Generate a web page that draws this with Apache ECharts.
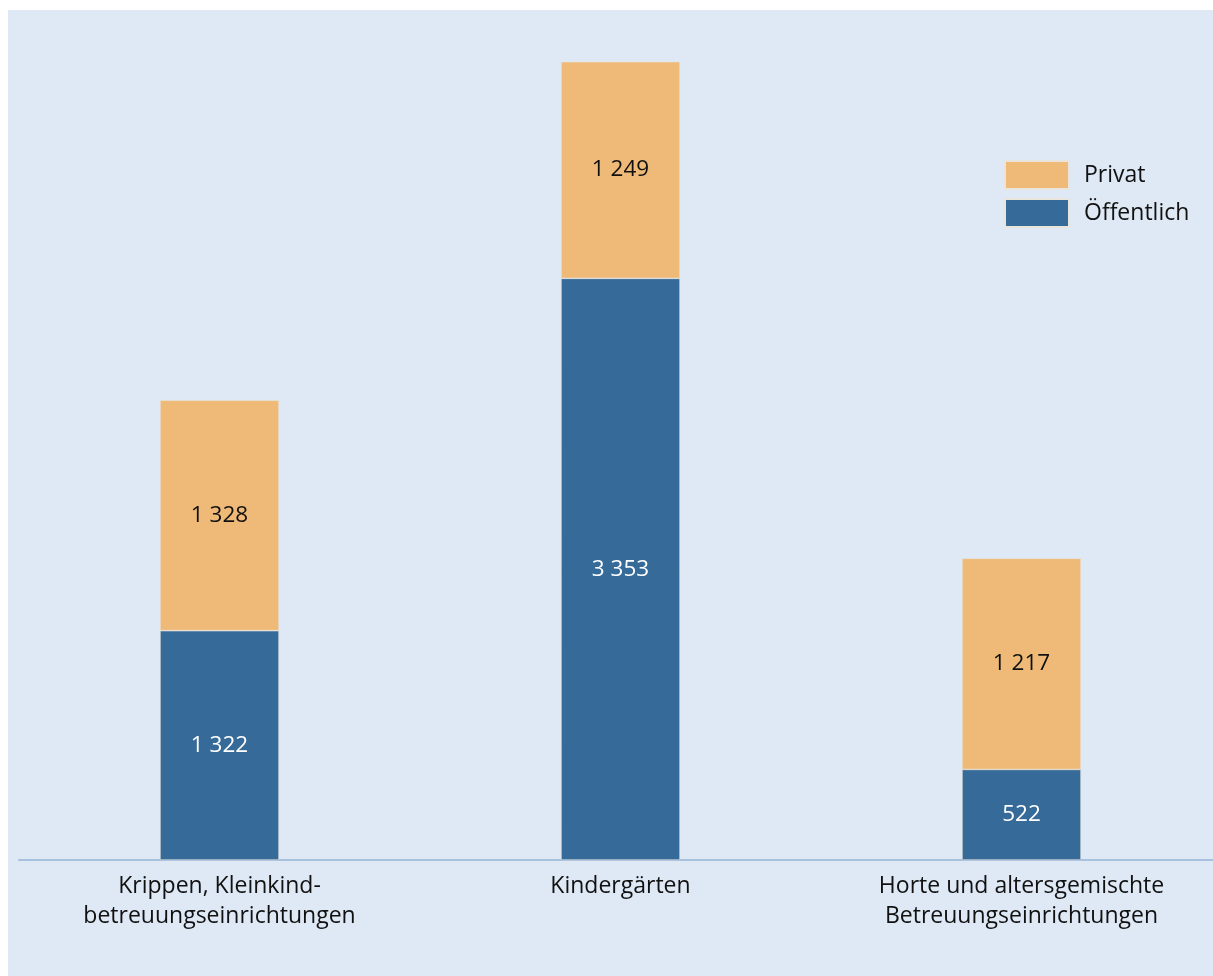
<!DOCTYPE html>
<html>
<head>
<meta charset="utf-8">
<script src="https://cdn.jsdelivr.net/npm/echarts@6/dist/echarts.min.js"></script>
<style>
html,body{margin:0;padding:0;background:#ffffff;width:1213px;height:976px;overflow:hidden;}
#chart{position:absolute;left:8px;top:10px;width:1260px;height:966px;}
</style>
</head>
<body>
<div id="chart"></div>
<script>
const categories = ["Krippen, Kleinkind-\nbetreuungseinrichtungen", "Kindergärten", "Horte und altersgemischte\nBetreuungseinrichtungen"];
const oeffentlich = [1322, 3353, 522];
const privat = [1328, 1249, 1217];
const seriesNames = ["Öffentlich", "Privat"];

const FONT = "Open Sans";
const fmt = v => String(v).replace(/\B(?=(\d{3})+(?!\d))/g, " ");

const chart = echarts.init(document.getElementById('chart'), null, {renderer: 'canvas'});
chart.setOption({
  backgroundColor: '#dee9f5',
  animation: false,
  textStyle: {fontFamily: FONT},
  grid: {left: 11, top: 0, width: 1203, height: 850, containLabel: false},
  legend: {
    data: [seriesNames[1], seriesNames[0]],
    orient: 'vertical',
    left: 996, top: 150,
    padding: 0,
    itemWidth: 64, itemHeight: 28, itemGap: 8,
    icon: 'rect',
    textStyle: {fontFamily: FONT, fontSize: 23, lineHeight: 28, color: '#111', padding: [0, 0, 0, 10]}
  },
  xAxis: {
    type: 'category',
    data: categories,
    axisLine: {lineStyle: {color: '#a7c1de', width: 2}},
    axisTick: {show: false},
    axisLabel: {fontFamily: FONT, fontSize: 23, color: '#111', lineHeight: 30, margin: 11, interval: 0}
  },
  yAxis: {
    type: 'value', min: 0, max: 4900,
    show: false,
    splitLine: {show: false}
  },
  series: [
    {
      name: seriesNames[0], type: 'bar', stack: 'total', data: oeffentlich,
      barWidth: 119,
      itemStyle: {color: '#366a98', borderColor: '#e9e4dc', borderWidth: 0.6},
      label: {show: true, position: 'inside', color: '#ffffff', fontFamily: FONT, fontSize: 22.5, formatter: p => fmt(p.value)}
    },
    {
      name: seriesNames[1], type: 'bar', stack: 'total', data: privat,
      barWidth: 119,
      itemStyle: {color: '#efba77', borderColor: '#e9e4dc', borderWidth: 0.6},
      label: {show: true, position: 'inside', color: '#111111', fontFamily: FONT, fontSize: 22.5, formatter: p => fmt(p.value)}
    }
  ]
});
</script>
</body>
</html>
